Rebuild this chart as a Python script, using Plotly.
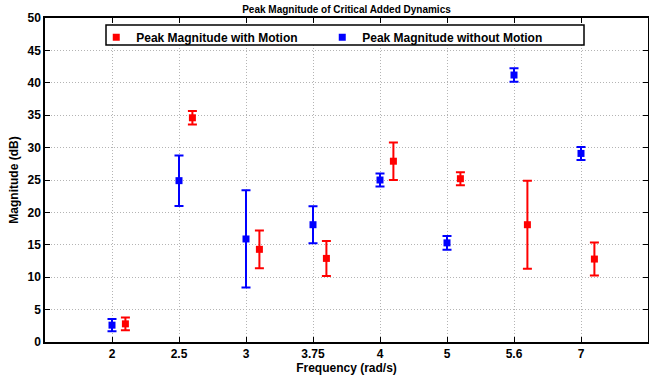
import plotly.graph_objects as go

freq_labels = ["2", "2.5", "3", "3.75", "4", "5", "5.6", "7"]

with_motion = [2.8, 34.6, 14.3, 12.9, 27.9, 25.2, 18.1, 12.8]
with_motion_err = [1.0, 1.05, 2.9, 2.7, 2.9, 1.0, 6.8, 2.55]

without_motion = [2.6, 24.9, 15.9, 18.1, 25.0, 15.3, 41.2, 29.1]
without_motion_err = [0.95, 3.9, 7.5, 2.85, 1.0, 1.05, 1.05, 1.0]

idx = list(range(len(freq_labels)))
offset = 0.2

FONT = "Liberation Sans, Arial, Helvetica, sans-serif"

fig = go.Figure()
fig.add_trace(go.Scatter(
    x=[i + offset for i in idx], y=with_motion, mode="markers",
    name="Peak Magnitude with Motion",
    marker=dict(symbol="square", size=7, color="#ff0000", line=dict(width=0)),
    error_y=dict(type="data", array=with_motion_err, visible=True,
                 color="#ff0000", thickness=2, width=4.5),
))
fig.add_trace(go.Scatter(
    x=idx, y=without_motion, mode="markers",
    name="Peak Magnitude without Motion",
    marker=dict(symbol="square", size=7, color="#0000ff", line=dict(width=0)),
    error_y=dict(type="data", array=without_motion_err, visible=True,
                 color="#0000ff", thickness=2, width=4.5),
))

axis_common = dict(
    showline=True, linecolor="black", linewidth=1.5, mirror="allticks",
    ticks="inside", ticklen=5, tickwidth=1, tickcolor="black",
    showgrid=True, gridcolor="#b4b4b4", griddash="1px,2px", gridwidth=1,
    zeroline=False, automargin=False,
    tickfont=dict(family=FONT, size=12, color="black", weight="bold"),
)

fig.update_layout(
    width=649, height=376,
    margin=dict(l=45, r=1, t=18, b=34),
    paper_bgcolor="white", plot_bgcolor="white",
    font=dict(family=FONT, color="black", weight="bold"),
    title=dict(text="Peak Magnitude of Critical Added Dynamics",
               font=dict(family=FONT, size=10, color="black", weight="bold"),
               x=(45 + 648) / 2 / 649, xanchor="center", xref="container",
               y=1 - 9 / 376, yanchor="middle", yref="container"),
    xaxis=dict(axis_common, range=[-1, 8], tickmode="array", tickvals=idx,
               ticktext=freq_labels,
               title=dict(text="Frequency (rad/s)", standoff=2,
                          font=dict(family=FONT, size=12, color="black", weight="bold"))),
    yaxis=dict(axis_common, range=[0, 50], tickmode="array",
               tickvals=list(range(0, 51, 5)),
               title=dict(text="Magnitude (dB)", standoff=6,
                          font=dict(family=FONT, size=12, color="black", weight="bold"))),
    showlegend=True,
    legend=dict(orientation="h", x=0.085, xanchor="left", y=0.985, yanchor="top",
                bgcolor="rgba(0,0,0,0)", borderwidth=0,
                entrywidth=181, entrywidthmode="pixels",
                font=dict(family=FONT, size=12, color="black", weight="bold"),
                itemsizing="trace"),
    shapes=[dict(type="rect", xref="paper", yref="paper",
                 x0=(106 - 45) / 603, x1=(584 - 45) / 603,
                 y0=(342 - 45) / 324, y1=(342 - 25) / 324,
                 line=dict(color="black", width=1.5), fillcolor="white",
                 layer="above")],
)

fig.write_html("out.html",
               config={"displayModeBar": False},
               post_script="document.body.style.margin='0';document.body.style.overflow='hidden';")
